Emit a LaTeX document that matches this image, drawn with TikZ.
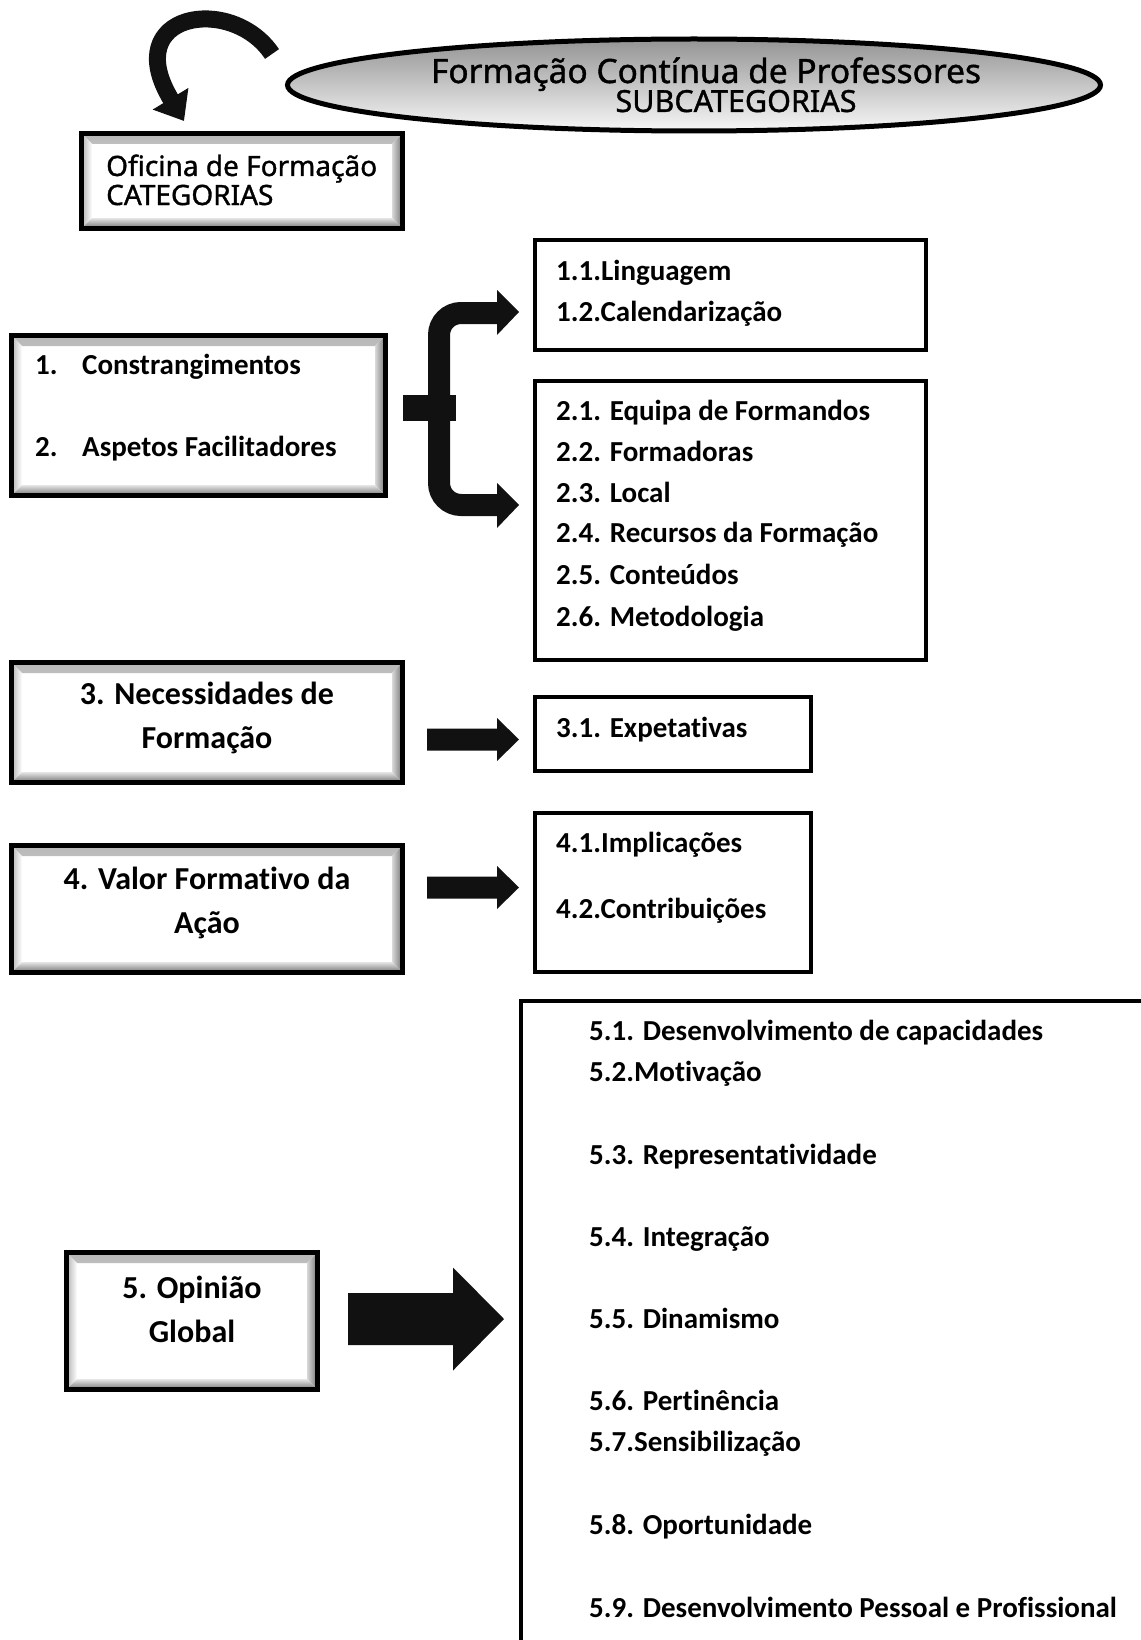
\documentclass[tikz,border=0pt]{standalone}
\usepackage{fontspec}
\setmainfont{Carlito}[Ligatures=NoCommon]
\newfontfamily\headfont{Noto Sans}[FakeBold=1.2]
\usetikzlibrary{arrows.meta,calc,shapes.geometric}

\definecolor{inkfill}{HTML}{111111}

% straight block arrow: tail x, tip x, centre y, shaft half width, head half width, head length
\newcommand{\blockarrow}[6]{%
  \fill[inkfill] (#1,#3-#4) -- (#2-#6,#3-#4) -- (#2-#6,#3-#5) -- (#2,#3)
    -- (#2-#6,#3+#5) -- (#2-#6,#3+#4) -- (#1,#3+#4) -- cycle;}

\tikzset{
  bevel/.style={path picture={
    \shade[top color=black!28, bottom color=white]
      (path picture bounding box.north west) -- (path picture bounding box.north east)
      -- ([xshift=-10.5pt,yshift=-10.5pt]path picture bounding box.north east)
      -- ([xshift=10.5pt,yshift=-10.5pt]path picture bounding box.north west) -- cycle;
    \shade[left color=black!30, right color=white]
      (path picture bounding box.north west)
      -- ([xshift=10.5pt,yshift=-10.5pt]path picture bounding box.north west)
      -- ([xshift=10.5pt,yshift=10.5pt]path picture bounding box.south west)
      -- (path picture bounding box.south west) -- cycle;
    \shade[left color=black!15, right color=black!55]
      (path picture bounding box.north east)
      -- ([xshift=-10.5pt,yshift=-10.5pt]path picture bounding box.north east)
      -- ([xshift=-10.5pt,yshift=10.5pt]path picture bounding box.south east)
      -- (path picture bounding box.south east) -- cycle;
    \shade[top color=black!10, bottom color=black!55]
      (path picture bounding box.south west) -- (path picture bounding box.south east)
      -- ([xshift=-10.5pt,yshift=10.5pt]path picture bounding box.south east)
      -- ([xshift=10.5pt,yshift=10.5pt]path picture bounding box.south west) -- cycle;
  }},
  catbox/.style={rectangle, draw=black, line width=5pt, fill=white, inner sep=0pt, bevel},
  subbox/.style={rectangle, draw=black, line width=4pt, fill=white, inner sep=0pt},
  cattext/.style={font=\fontsize{32}{38}\selectfont\bfseries, inner sep=0pt, anchor=base},
  subtext/.style={font=\fontsize{29}{35}\selectfont\bfseries, inner sep=0pt, anchor=base west},
  headtext/.style={font=\headfont\fontsize{33.5}{38}\selectfont, inner sep=0pt, anchor=base},
  headsub/.style={font=\headfont\fontsize{30.5}{35}\selectfont, inner sep=0pt, anchor=base},
  headleft/.style={font=\headfont\fontsize{28}{32}\selectfont, inner sep=0pt, anchor=base west},
}

\begin{document}
\begin{tikzpicture}[x=1pt,y=-1pt]
\useasboundingbox (0,0) rectangle (1140,1640);
\fill[white] (0,0) rectangle (1140,1640);

% header ellipse
\node[ellipse, draw=black, line width=5pt, top color=black!42, bottom color=black!3,
      minimum width=813pt, minimum height=92pt, inner sep=0pt] (title) at (694,85) {};
\node[headtext] (titleA) at (706,83) {Formação Contínua de Professores};
\node[headsub] (titleB) at (736,112) {SUBCATEGORIAS};

% curved arrow towards the category box
\draw[inkfill, line width=17pt, -{Triangle[length=26pt,width=40pt]}]
  (272,54) .. controls (232,-6) and (118,12) .. (184,121);

% categories
\node[catbox, minimum width=321pt, minimum height=95pt] (ofi) at (242,181) {};
\node[headleft] (ofiA) at (106,176) {Oficina de Formação};
\node[headleft] (ofiB) at (106,205) {CATEGORIAS};

\node[catbox, minimum width=374pt, minimum height=160pt] (c12) at (198.5,415.5) {};
\node[subtext] (c1n) at (35,374) {1.};
\node[subtext] (c1t) at (82,374) {Constrangimentos};
\node[subtext] (c2n) at (35,456) {2.};
\node[subtext] (c2t) at (82,456) {Aspetos Facilitadores};

\node[catbox, minimum width=391pt, minimum height=120pt] (c3) at (207,722.5) {};
\node[cattext] (c3a) at (207,704) {3. Necessidades de};
\node[cattext] (c3b) at (207,748) {Formação};

\node[catbox, minimum width=391pt, minimum height=127pt] (c4) at (207,909) {};
\node[cattext] (c4a) at (207,889) {4. Valor Formativo da};
\node[cattext] (c4b) at (207,933) {Ação};

\node[catbox, minimum width=251pt, minimum height=137pt] (c5) at (192,1321) {};
\node[cattext] (c5a) at (192,1298) {5. Opinião};
\node[cattext] (c5b) at (192,1342) {Global};

% subcategories
\node[subbox, minimum width=391pt, minimum height=110pt] (s1) at (730.5,295) {};
\node[subtext] (s11) at (556,280) {1.1.Linguagem};
\node[subtext] (s12) at (556,321) {1.2.Calendarização};

\node[subbox, minimum width=391pt, minimum height=279pt] (s2) at (730.5,520.5) {};
\node[subtext] (s21) at (556,420) {2.1. Equipa de Formandos};
\node[subtext] (s22) at (556,461) {2.2. Formadoras};
\node[subtext] (s23) at (556,502) {2.3. Local};
\node[subtext] (s24) at (556,542) {2.4. Recursos da Formação};
\node[subtext] (s25) at (556,584) {2.5. Conteúdos};
\node[subtext] (s26) at (556,626) {2.6. Metodologia};

\node[subbox, minimum width=276pt, minimum height=74pt] (s3) at (673,734) {};
\node[subtext] (s31) at (556,737) {3.1. Expetativas};

\node[subbox, minimum width=276pt, minimum height=159pt] (s4) at (673,892.5) {};
\node[subtext] (s41) at (556,852) {4.1.Implicações};
\node[subtext] (s42) at (556,918) {4.2.Contribuições};

\node[subbox, minimum width=659pt, minimum height=679pt] (s5) at (850.5,1340.5) {};
\node[subtext] (s51) at (589,1040) {5.1. Desenvolvimento de capacidades};
\node[subtext] (s52) at (589,1081) {5.2.Motivação};
\node[subtext] (s53) at (589,1164) {5.3. Representatividade};
\node[subtext] (s54) at (589,1246) {5.4. Integração};
\node[subtext] (s55) at (589,1328) {5.5. Dinamismo};
\node[subtext] (s56) at (589,1410) {5.6. Pertinência};
\node[subtext] (s57) at (589,1451) {5.7.Sensibilização};
\node[subtext] (s58) at (589,1534) {5.8. Oportunidade};
\node[subtext] (s59) at (589,1617) {5.9. Desenvolvimento Pessoal e Profissional};

% forked arrow from categories 1 and 2
\fill[inkfill] (403,395) rectangle (456,421);
\draw[inkfill, line width=22pt, rounded corners=22pt] (498,313) -- (439,313) -- (439,505) -- (498,505);
\fill[inkfill] (497,290) -- (519,312) -- (497,335) -- cycle;
\fill[inkfill] (497,483) -- (519,505) -- (497,528) -- cycle;

% straight arrows
\blockarrow{427}{519}{739.5}{11}{21.5}{22}
\blockarrow{427}{519}{887.5}{11}{21.5}{22}
\blockarrow{348}{504}{1319}{26}{51.5}{51}
\end{tikzpicture}
\end{document}
